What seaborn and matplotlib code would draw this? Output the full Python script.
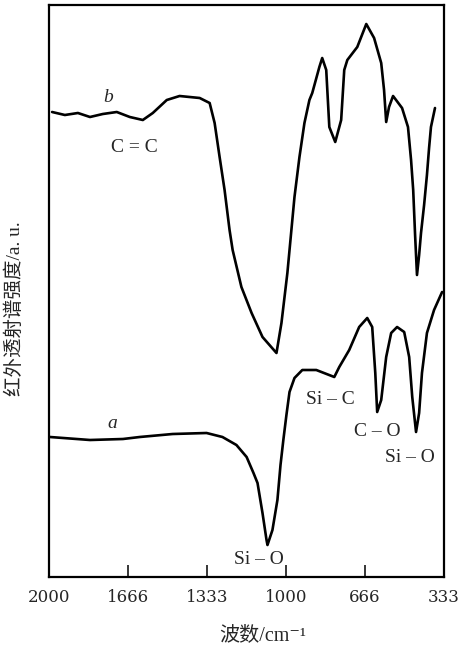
import matplotlib
matplotlib.use("Agg")
import matplotlib.pyplot as plt
import pandas as pd
import seaborn as sns

# Spectrum b (upper trace): wavenumber (cm^-1) and transmission (a.u.)
wn_b = [1987, 1933, 1878, 1827, 1773, 1714, 1659, 1604, 1562, 1503, 1449, 1364,
        1322, 1301, 1280, 1259, 1238, 1225, 1188, 1145, 1099, 1040, 1019, 994,
        964, 943, 922, 901, 889, 859, 847, 830, 817, 792, 767, 754, 741, 699,
        661, 628, 598, 586, 577, 565, 548, 510, 485, 472, 463, 455, 447, 438,
        430, 417, 405, 396, 388, 371]
t_b = [465, 462, 464, 460, 463, 465, 460, 457, 464, 477, 481, 479,
       474, 454, 420, 387, 347, 327, 290, 264, 240, 224, 254, 304,
       380, 420, 454, 477, 484, 510, 519, 507, 450, 435, 457, 507, 517, 530,
       553, 539, 514, 487, 455, 470, 481, 469, 450, 417, 387, 342, 302, 322,
       344, 372, 402, 429, 450, 469]

# Spectrum a (lower trace)
wn_a = [1996, 1827, 1688, 1617, 1478, 1335, 1268, 1209, 1166, 1137, 1120, 1099,
        1082, 1078, 1057, 1036, 1023, 1011, 998, 985, 964, 931, 872, 796, 775,
        733, 691, 657, 636, 623, 615, 598, 577, 556, 531, 501, 480, 467, 451,
        438, 426, 405, 375, 341]
t_a = [140, 137, 138, 140, 143, 144, 140, 132, 120, 104, 94, 64,
       37, 32, 47, 77, 112, 137, 162, 185, 199, 207, 207, 200, 210,
       227, 250, 259, 250, 204, 165, 177, 220, 244, 250, 245, 220, 180, 145,
       164, 204, 244, 267, 285]

tick_values = [2000, 1666, 1333, 1000, 666, 333]

# Band assignments: (label, wavenumber, intensity)
band_labels = ["b", "C = C", "a", "Si – C", "C – O", "Si – O", "Si – O"]
band_wn = [1752, 1638, 1731, 813, 615, 476, 1116]
band_t = [479, 429, 154, 177, 145, 120, 17]
band_italic = [True, False, True, False, False, False, False]

df = pd.concat([
    pd.DataFrame({"wn": wn_b, "t": t_b, "curve": "b"}),
    pd.DataFrame({"wn": wn_a, "t": t_a, "curve": "a"}),
])

sns.set_style("white")
plt.rcParams["font.family"] = ["Liberation Serif", "Noto Sans CJK SC", "DejaVu Serif"]

fig = plt.figure(figsize=(4.59, 6.47), dpi=100)
ax = fig.add_axes([49 / 459, 1 - 577 / 647, 395 / 459, 572 / 647])

sns.lineplot(data=df, x="wn", y="t", hue="curve", palette=["black", "black"],
             estimator=None, sort=True, legend=False, linewidth=1.9, ax=ax)
for ln in ax.lines:
    ln.set_solid_joinstyle("round")
    ln.set_solid_capstyle("round")

ax.set_xlim(2000, 333)
ax.set_ylim(0, 572)
ax.set_xticks(tick_values)
ax.set_xticklabels([str(v) for v in tick_values], fontsize=12,
                   family="DejaVu Serif")
ax.set_yticks([])
ax.tick_params(axis="x", direction="in", length=9, width=1.3, pad=9, bottom=True)
for s in ax.spines.values():
    s.set_visible(True)
    s.set_color("black")
    s.set_linewidth(1.6)
ax.set_xlabel("")
ax.set_ylabel("")

for lab, x, y, it in zip(band_labels, band_wn, band_t, band_italic):
    ax.text(x, y, lab, ha="center", va="center", fontsize=14,
            style="italic" if it else "normal")

fig.text(263 / 459, 1 - 636 / 647, "波数/cm⁻¹", ha="center", va="center",
         fontsize=14.5)
fig.text(15 / 459, 1 - 309 / 647, "红外透射谱强度/a. u.", ha="center",
         va="center", rotation=90, fontsize=14)

fig.savefig("out.png", dpi=100)
